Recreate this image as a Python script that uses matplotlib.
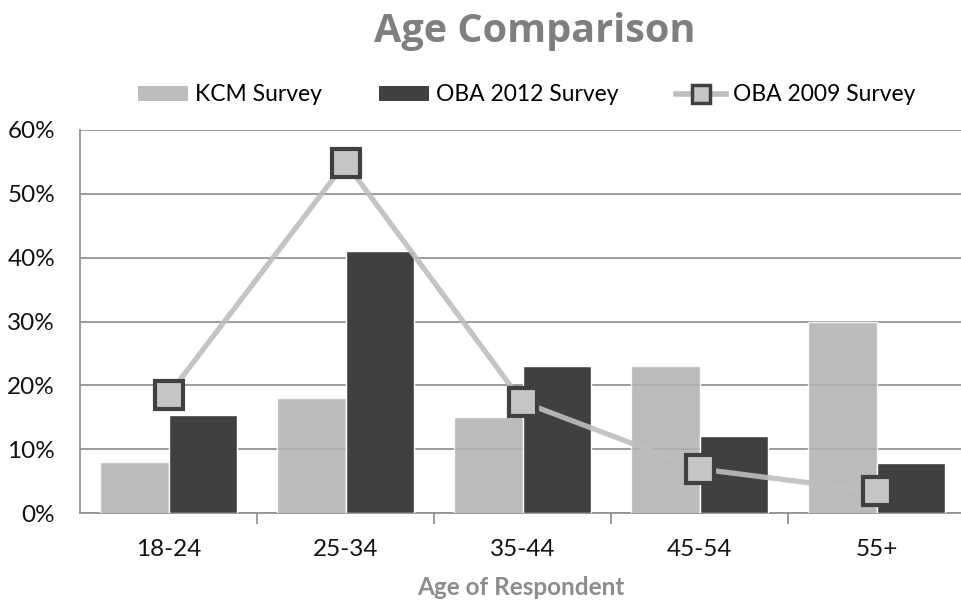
import matplotlib
matplotlib.use("Agg")
import matplotlib.pyplot as plt
import numpy as np
from matplotlib.patches import Patch
from matplotlib.lines import Line2D
from matplotlib.ticker import FuncFormatter, FixedLocator

plt.rcParams['font.family'] = ['Lato', 'DejaVu Sans']

categories = ["18-24", "25-34", "35-44", "45-54", "55+"]
kcm_survey = [0.08, 0.18, 0.15, 0.23, 0.30]
oba_2012 = [0.154, 0.411, 0.230, 0.121, 0.078]
oba_2009 = [0.185, 0.549, 0.174, 0.069, 0.034]
y_ticks = [0.0, 0.1, 0.2, 0.3, 0.4, 0.5, 0.6]

fig = plt.figure(figsize=(9.61, 6.01), dpi=100)
ax = fig.add_axes([80 / 961, 88 / 601, 881 / 961, 383 / 601])

x = np.arange(len(categories))
w = 0.385
grid_col = "#939393"

ax.bar(x - w / 2, kcm_survey, width=w, color="#B0B0B0", alpha=0.85,
       edgecolor="white", linewidth=1.0, zorder=3)
ax.bar(x + w / 2, oba_2012, width=w, color="#404040",
       edgecolor="white", linewidth=1.0, zorder=3)
ax.plot(x, oba_2009, color="#BEBEBE", alpha=0.9, linewidth=3.8,
        solid_capstyle="round", zorder=4)
ax.plot(x, oba_2009, linestyle="none", marker="s", markersize=19.5,
        markerfacecolor="#C6C6C6", markeredgecolor="#404040",
        markeredgewidth=3.0, zorder=5)

ax.set_xlim(-0.5, -0.5 + 881 / 177)
ax.set_ylim(0, 0.6)
ax.yaxis.set_major_locator(FixedLocator(y_ticks))
ax.yaxis.set_major_formatter(FuncFormatter(lambda v, p: f"{v * 100:.0f}%"))
ax.grid(axis="y", color=grid_col, linewidth=1.3, zorder=0)
ax.set_axisbelow(True)

ax.set_xticks(x)
ax.set_xticklabels(categories)
ax.xaxis.set_minor_locator(FixedLocator(np.arange(0.5, 4.5, 1.0)))
ax.tick_params(axis="x", which="major", length=0, pad=19, labelsize=17.5,
               labelcolor="#111111")
ax.tick_params(axis="x", which="minor", length=8, width=1.3, color=grid_col)
ax.tick_params(axis="y", length=0, pad=18, labelsize=17.5, labelcolor="#111111")

for side in ("top", "right"):
    ax.spines[side].set_visible(False)
for side in ("left", "bottom"):
    ax.spines[side].set_color(grid_col)
    ax.spines[side].set_linewidth(1.3)

ax.set_xlabel("Age of Respondent", fontsize=17.5, fontweight="bold",
              color="#8C8C8C", labelpad=11)

fig.text(0.556, 0.947, "Age Comparison", ha="center", va="center",
         fontsize=28.5, fontweight="bold", color="#7F7F7F",
         family=["Open Sans", "DejaVu Sans"])

handles = [
    Patch(facecolor="#BDBDBD", edgecolor="none"),
    Patch(facecolor="#404040", edgecolor="none"),
    Line2D([0], [0], color="#BEBEBE", linewidth=4, marker="s", markersize=13,
           markerfacecolor="#C6C6C6", markeredgecolor="#404040",
           markeredgewidth=2.5),
]
labels = ["KCM Survey", "OBA 2012 Survey", "OBA 2009 Survey"]
fig.legend(handles, labels, loc="center", bbox_to_anchor=(0.548, 0.842),
           ncol=3, frameon=False, fontsize=16.5, handlelength=2.2,
           handleheight=0.6, handletextpad=0.3, columnspacing=2.5)

fig.savefig("out.png", dpi=100, facecolor="white")
